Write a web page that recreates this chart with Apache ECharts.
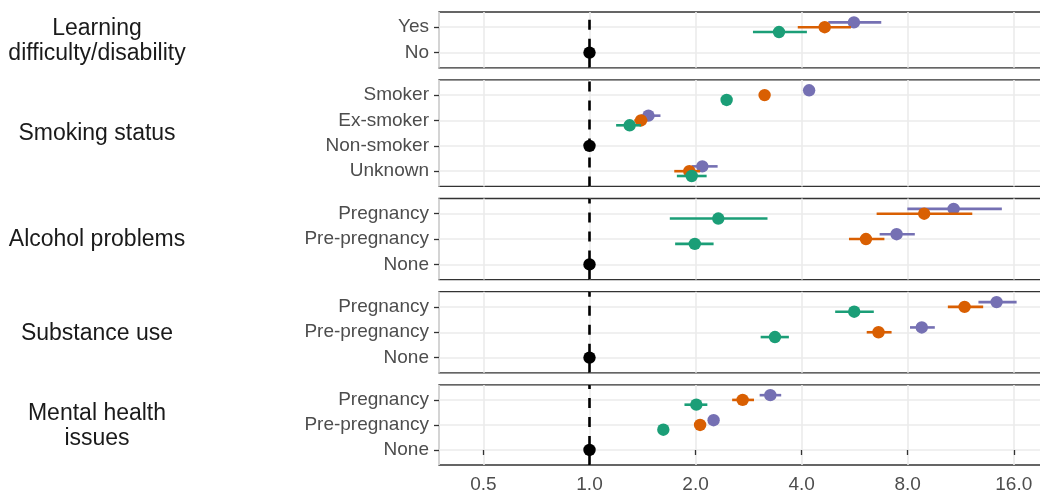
<!DOCTYPE html>
<html>
<head>
<meta charset="utf-8">
<script src="https://cdn.jsdelivr.net/npm/echarts@6/dist/echarts.min.js"></script>
<style>
html,body{margin:0;padding:0;background:#fff;overflow:hidden;}
#chart{width:1046px;height:494px;}
</style>
</head>
<body>
<div id="chart"></div>
<script>
// ---- data ----
const panelTitles = ['Learning\ndifficulty/disability', 'Smoking status', 'Alcohol problems', 'Substance use', 'Mental health\nissues'];
// categories listed top to bottom
const panelCategories = [
  ['Yes', 'No'],
  ['Smoker', 'Ex-smoker', 'Non-smoker', 'Unknown'],
  ['Pregnancy', 'Pre-pregnancy', 'None'],
  ['Pregnancy', 'Pre-pregnancy', 'None'],
  ['Pregnancy', 'Pre-pregnancy', 'None']
];
const xTickLabels = ['0.5', '1.0', '2.0', '4.0', '8.0', '16.0'];
const xMin = 0.374, xMax = 19.75;

// [panel, category, estimate]
const referenceRows = [
  [0, 'No', 1], [1, 'Non-smoker', 1], [2, 'None', 1], [3, 'None', 1], [4, 'None', 1]
];
// [panel, category, estimate, lower, upper]
const purpleRows = [
  [0, 'Yes', 5.63, 4.76, 6.73],
  [1, 'Smoker', 4.20, 4.06, 4.35],
  [1, 'Ex-smoker', 1.47, 1.40, 1.59],
  [1, 'Unknown', 2.09, 1.95, 2.31],
  [2, 'Pregnancy', 10.8, 7.98, 14.8],
  [2, 'Pre-pregnancy', 7.44, 6.66, 8.38],
  [3, 'Pregnancy', 14.3, 12.7, 16.3],
  [3, 'Pre-pregnancy', 8.77, 8.12, 9.55],
  [4, 'Pregnancy', 3.26, 3.04, 3.50],
  [4, 'Pre-pregnancy', 2.25, 2.19, 2.32]
];
const orangeRows = [
  [0, 'Yes', 4.65, 3.90, 5.52],
  [1, 'Smoker', 3.14, 3.03, 3.25],
  [1, 'Ex-smoker', 1.40, 1.34, 1.46],
  [1, 'Unknown', 1.92, 1.74, 2.06],
  [2, 'Pregnancy', 8.91, 6.53, 12.2],
  [2, 'Pre-pregnancy', 6.09, 5.45, 6.87],
  [3, 'Pregnancy', 11.6, 10.4, 13.1],
  [3, 'Pre-pregnancy', 6.61, 6.12, 7.20],
  [4, 'Pregnancy', 2.72, 2.54, 2.93],
  [4, 'Pre-pregnancy', 2.06, 2.00, 2.13]
];
const greenRows = [
  [0, 'Yes', 3.45, 2.91, 4.14],
  [1, 'Smoker', 2.45, 2.37, 2.53],
  [1, 'Ex-smoker', 1.30, 1.19, 1.40],
  [1, 'Unknown', 1.95, 1.77, 2.15],
  [2, 'Pregnancy', 2.32, 1.69, 3.20],
  [2, 'Pre-pregnancy', 1.99, 1.75, 2.25],
  [3, 'Pregnancy', 5.64, 4.98, 6.41],
  [3, 'Pre-pregnancy', 3.36, 3.06, 3.68],
  [4, 'Pregnancy', 2.01, 1.86, 2.16],
  [4, 'Pre-pregnancy', 1.62, 1.57, 1.67]
];

// ---- layout / style ----
const FONT = '"Liberation Sans", Arial, sans-serif';
const gridTops = [12, 79.9, 198.5, 291.7, 384.9];
const gridHeights = [55.8, 106.5, 81.1, 81.1, 81.1];
const gridLeft = 439;
const groupStyles = [
  { name: 'Group 3', rows: purpleRows, color: '#7570B3', offset: 0.19 },
  { name: 'Group 2', rows: orangeRows, color: '#D95F02', offset: 0 },
  { name: 'Group 1', rows: greenRows, color: '#1B9E77', offset: -0.19 }
];

function rowPos(p, cat) {
  const cats = panelCategories[p];
  return cats.length - 1 - cats.indexOf(cat);
}

function makeRender(color, withBar) {
  return function (params, api) {
    const y = api.value(0);
    const p = api.coord([api.value(1), y]);
    const children = [];
    if (withBar) {
      const a = api.coord([api.value(2), y]);
      const b = api.coord([api.value(3), y]);
      children.push({ type: 'line', shape: { x1: a[0], y1: a[1], x2: b[0], y2: b[1] },
        style: { stroke: color, lineWidth: 2.6 } });
    }
    children.push({ type: 'circle', shape: { cx: p[0], cy: p[1], r: 6.2 }, style: { fill: color } });
    return { type: 'group', children: children };
  };
}

const grids = [], xAxes = [], yAxes = [], series = [], graphics = [];
panelCategories.forEach(function (cats, i) {
  const n = cats.length;
  const last = i === panelCategories.length - 1;
  grids.push({ left: gridLeft, right: 0, top: gridTops[i], height: gridHeights[i],
    show: true, borderColor: '#333333', borderWidth: 1.3, backgroundColor: 'transparent', containLabel: false });
  xAxes.push({
    type: 'log', logBase: 2, gridIndex: i, min: xMin, max: xMax,
    axisLine: { show: false },
    axisTick: { show: last, length: 5, lineStyle: { color: '#333333', width: 1.3 } },
    axisLabel: { show: last, color: '#4D4D4D', fontSize: 19, fontFamily: FONT, margin: 10,
      showMinLabel: false, showMaxLabel: false,
      formatter: function (v) {
        const idx = Math.round(Math.log2(v)) + 1;
        return xTickLabels[idx] !== undefined ? xTickLabels[idx] : '';
      } },
    splitLine: { show: true, lineStyle: { color: '#EBEBEB', width: 1.6 } }
  });
  const ticks = cats.map(function (c, k) { return k; });
  const bottomUp = cats.slice().reverse();
  yAxes.push({
    type: 'value', gridIndex: i, min: -0.6, max: n - 0.4,
    axisLine: { show: false },
    axisTick: { show: true, length: 5, lineStyle: { color: '#333333', width: 1.3 }, customValues: ticks },
    axisLabel: { color: '#4D4D4D', fontSize: 19, fontFamily: FONT, margin: 10, customValues: ticks,
      formatter: function (v) { return bottomUp[Math.round(v)] || ''; } },
    splitLine: { show: true, lineStyle: { color: '#EBEBEB', width: 1.6 } }
  });
  // reference point + dashed line at 1
  series.push({
    type: 'custom', name: 'Reference', xAxisIndex: i, yAxisIndex: i,
    encode: { x: 1, y: 0 },
    data: referenceRows.filter(function (r) { return r[0] === i; })
      .map(function (r) { return [rowPos(i, r[1]), r[2]]; }),
    renderItem: makeRender('#000000', false),
    markLine: { silent: true, symbol: 'none', label: { show: false },
      lineStyle: { color: '#000000', width: 2.6, type: [10, 9] },
      data: [{ xAxis: 1 }] },
    z: 3
  });
  groupStyles.forEach(function (g, k) {
    series.push({
      type: 'custom', name: g.name, xAxisIndex: i, yAxisIndex: i,
      encode: { x: [1, 2, 3], y: 0 },
      data: g.rows.filter(function (r) { return r[0] === i; })
        .map(function (r) { return [rowPos(i, r[1]) + g.offset, r[2], r[3], r[4]]; }),
      renderItem: makeRender(g.color, true),
      z: 4 + k
    });
  });
  graphics.push({
    type: 'text',
    x: 97, y: gridTops[i] + gridHeights[i] / 2 + 1,
    style: { text: panelTitles[i], fill: '#1A1A1A', font: '23px ' + FONT,
      textAlign: 'center', textVerticalAlign: 'middle', lineHeight: 25 }
  });
});

const chart = echarts.init(document.getElementById('chart'), null, { renderer: 'canvas' });
chart.setOption({
  animation: false,
  backgroundColor: '#ffffff',
  grid: grids,
  xAxis: xAxes,
  yAxis: yAxes,
  series: series,
  graphic: graphics
});
</script>
</body>
</html>
